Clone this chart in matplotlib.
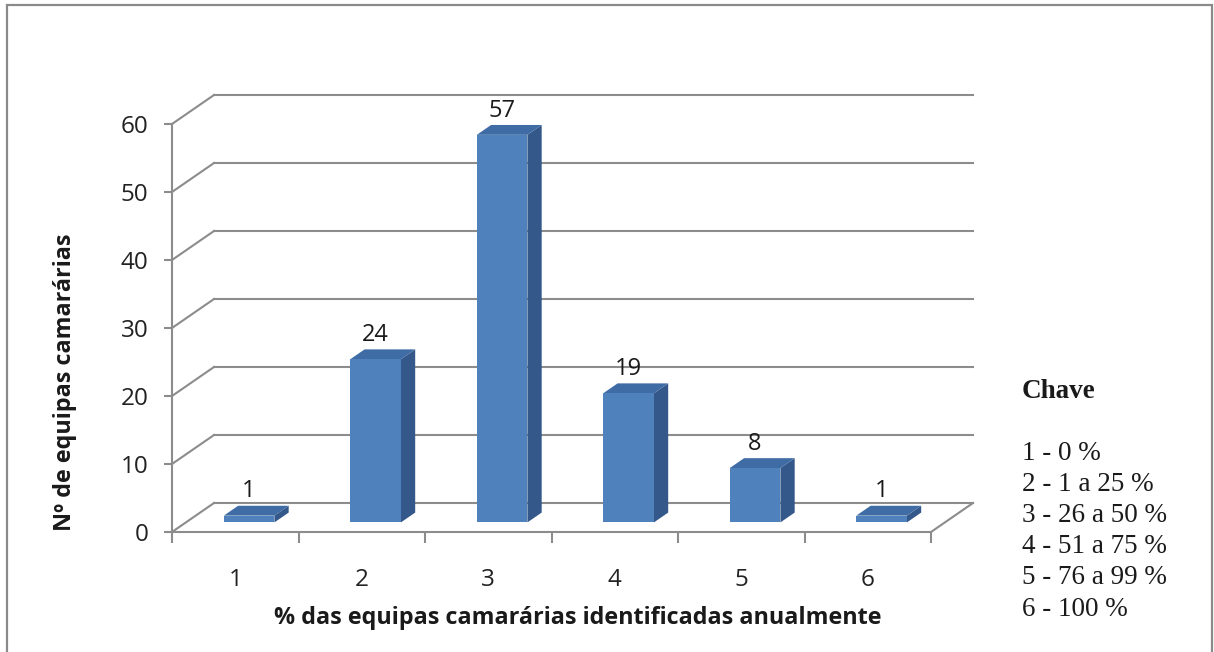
import matplotlib
matplotlib.use("Agg")
import matplotlib.pyplot as plt
from matplotlib.patches import Polygon, Rectangle
import numpy as np

categories = [1, 2, 3, 4, 5, 6]
values = [1, 24, 57, 19, 8, 1]
yticks = [0, 10, 20, 30, 40, 50, 60]
legend_title = "Chave"
legend_items = ["1 - 0 %", "2 - 1 a 25 %", "3 - 26 a 50 %", "4 - 51 a 75 %", "5 - 76 a 99 %", "6 - 100 %"]
xlabel = "% das equipas camarárias identificadas anualmente"
ylabel = "Nº de equipas camarárias"

W, H = 1214, 652
fig = plt.figure(figsize=(W / 100, H / 100), dpi=100)

# outer frame
fig.patches.append(Rectangle((7 / W, -0.05), (1212 - 7) / W, (H - 5) / H + 0.05,
                             transform=fig.transFigure, fill=False,
                             edgecolor="#8a8a8a", linewidth=1.6))

ax = fig.add_axes([172 / W, (H - 532) / H, (931 - 172) / W, (532 - 124) / H])
ax.set_xlim(0.5, 6.5)
ax.set_ylim(0, 60)
ax.patch.set_alpha(0)

DX = 42 / 126.5   # depth offset in category units
DY = 29 / 6.8     # depth offset in value units
f0, f1 = 0.33, 0.67
hw = 0.2
grid_c = "#8c8c8c"
lw = 1.5

# back wall gridlines and left wall diagonals
for v in yticks:
    ax.plot([0.5, 0.5 + DX], [v, v + DY], color=grid_c, lw=lw, clip_on=False, zorder=1)
    ax.plot([0.5 + DX, 6.5 + DX], [v + DY, v + DY], color=grid_c, lw=lw, clip_on=False, zorder=1)
# right floor edge
ax.plot([6.5, 6.5 + DX], [0, DY], color=grid_c, lw=lw, clip_on=False, zorder=1)

front_c = "#4f81bd"
side_c = "#34588a"
top_c = "#3f6ca4"
for c, v in zip(categories, values):
    x0 = c - hw + f0 * DX
    x1 = c + hw + f0 * DX
    y0 = f0 * DY
    ddx = (f1 - f0) * DX
    ddy = (f1 - f0) * DY
    front = Rectangle((x0, y0), x1 - x0, v, facecolor=front_c, edgecolor="none", zorder=3, clip_on=False)
    side = Polygon([(x1, y0), (x1 + ddx, y0 + ddy), (x1 + ddx, y0 + ddy + v), (x1, y0 + v)],
                   closed=True, facecolor=side_c, edgecolor="none", zorder=3, clip_on=False)
    top = Polygon([(x0, y0 + v), (x1, y0 + v), (x1 + ddx, y0 + ddy + v), (x0 + ddx, y0 + ddy + v)],
                  closed=True, facecolor=top_c, edgecolor="none", zorder=3, clip_on=False)
    ax.add_patch(side)
    ax.add_patch(top)
    ax.add_patch(front)
    ax.annotate(str(v), xy=(c + f0 * DX, y0 + ddy + v), xytext=(0, 6),
                textcoords="offset points", ha="center", va="baseline",
                fontsize=17, color="#1a1a1a", family="Open Sans", zorder=5,
                annotation_clip=False)

for s in ["top", "right"]:
    ax.spines[s].set_visible(False)
for s in ["left", "bottom"]:
    ax.spines[s].set_color(grid_c)
    ax.spines[s].set_linewidth(lw)
    ax.spines[s].set_zorder(4)

ax.set_yticks(yticks)
ax.set_yticklabels([str(t) for t in yticks], fontsize=17.5, family="Open Sans", color="#222222")
ax.tick_params(axis="y", direction="out", length=6, width=lw, color=grid_c, pad=11)

ax.set_xticks(np.arange(0.5, 7.0, 1.0))
ax.set_xticklabels([])
ax.set_xticks(categories, minor=True)
ax.set_xticklabels([str(c) for c in categories], minor=True, fontsize=17.5,
                   family="Open Sans", color="#222222")
ax.tick_params(axis="x", which="major", direction="out", length=8, width=lw, color=grid_c)
ax.tick_params(axis="x", which="minor", length=0, pad=26)

ax.set_xlabel(xlabel, fontsize=16.8, fontweight="bold", family="Open Sans", color="#1a1a1a", labelpad=10)
ax.xaxis.set_label_coords(0.535, -(618 - 532) / (532 - 124), transform=ax.transAxes)
ax.xaxis.label.set_va("center")
ax.set_ylabel(ylabel, fontsize=16.8, fontweight="bold", family="Open Sans", color="#1a1a1a")
ax.yaxis.set_label_coords(-(172 - 65) / (931 - 172), (532 - 382) / (532 - 124), transform=ax.transAxes)
ax.yaxis.label.set_va("center")

fig.text(1022 / W, 1 - 392 / H, legend_title, fontsize=19.5, fontweight="bold",
         family="Liberation Serif", va="center", ha="left", color="#1a1a1a")
for i, item in enumerate(legend_items):
    fig.text(1022 / W, 1 - (453 + i * 31.2) / H, item, fontsize=19.5,
             family="Liberation Serif", va="center", ha="left", color="#1a1a1a")

fig.savefig("out.png", dpi=100)
